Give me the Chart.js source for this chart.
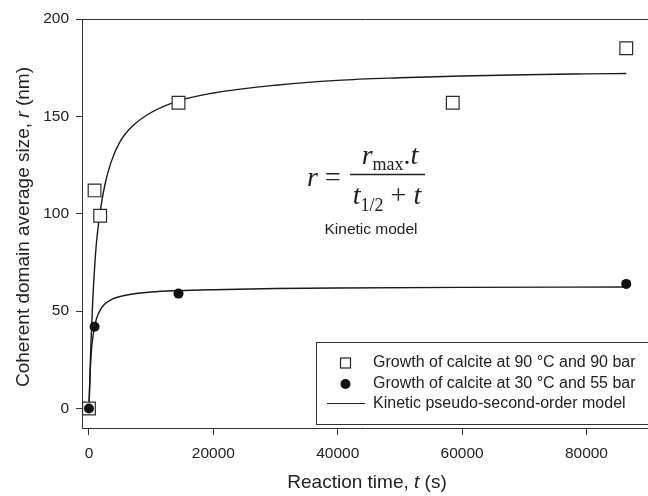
<!DOCTYPE html>
<html>
<head>
<meta charset="utf-8">
<script src="https://cdn.jsdelivr.net/npm/chart.js@4.4.1/dist/chart.umd.min.js"></script>
<style>
  html, body { margin: 0; padding: 0; background: #fff; }
  #wrap { width: 648px; height: 496px; }
</style>
</head>
<body>
<div id="wrap"><canvas id="chart" width="648" height="496"></canvas></div>
<script>
const timeSquares = [0, 900, 1800, 14400, 58500, 86400];
const sizeSquares = [0, 112, 99, 157, 157, 185];
const timeCircles = [0, 900, 14400, 86400];
const sizeCircles = [0, 42, 59, 64];

// Courbes du modèle
const modelTime90 = [0, 300, 600, 900, 1200, 1800, 2500, 3500, 5000, 7000, 10000, 14400, 20000, 30000, 40000, 50000, 60000, 70000, 80000, 86400];
const modelSize90 = [0, 32, 55, 72, 85, 101, 114, 126, 137, 145, 152, 158, 162, 166, 168.5, 169.8, 170.7, 171.4, 171.8, 172];
const modelTime30 = [0, 200, 400, 600, 900, 1200, 1800, 2500, 3500, 5000, 7000, 10000, 14400, 20000, 30000, 40000, 60000, 86400];
const modelSize30 = [0, 19, 30, 36, 42, 46, 50.5, 53.5, 55.8, 57.5, 58.8, 59.8, 60.5, 61, 61.6, 61.9, 62.2, 62.4];

// Graduations
const xTicks = [0, 20000, 40000, 60000, 80000];
const yTicks = [0, 50, 100, 150, 200];

const legendLabels = [
  "Growth of calcite at 90 °C and 90 bar",
  "Growth of calcite at 30 °C and 55 bar",
  "Kinetic pseudo-second-order model"
];

const ink = "#222";
const sans = "Arial, 'Liberation Sans', sans-serif";
const serif = "'Times New Roman', 'Liberation Serif', serif";

function toPoints(xs, ys) {
  return xs.map((x, i) => ({ x: x, y: ys[i] }));
}

// Dessine une suite de morceaux de texte (polices différentes)
function drawRuns(ctx, runs, x, y, align) {
  let total = 0;
  runs.forEach((r) => {
    ctx.font = r.font;
    total += ctx.measureText(r.text).width;
  });
  let cx = align === "center" ? x - total / 2 : x;
  ctx.textAlign = "left";
  runs.forEach((r) => {
    ctx.font = r.font;
    ctx.fillText(r.text, cx, y + (r.dy || 0));
    cx += ctx.measureText(r.text).width;
  });
}

const decorations = {
  id: "decorations",
  afterDraw(chart) {
    const ctx = chart.ctx;
    const area = chart.chartArea;
    ctx.save();

    // Bord supérieur
    ctx.strokeStyle = "#333";
    ctx.lineWidth = 1;
    ctx.beginPath();
    ctx.moveTo(area.left, area.top + 0.5);
    ctx.lineTo(area.right + 5, area.top + 0.5);
    ctx.stroke();

    ctx.fillStyle = ink;
    ctx.textBaseline = "alphabetic";

    // Titre de l'axe x
    drawRuns(ctx, [
      { text: "Reaction time, ", font: "19px " + sans },
      { text: "t", font: "italic 19px " + sans },
      { text: " (s)", font: "19px " + sans }
    ], 367, 488, "center");

    // Titre de l'axe y
    ctx.save();
    ctx.translate(29, 227);
    ctx.rotate(-Math.PI / 2);
    drawRuns(ctx, [
      { text: "Coherent domain average size, ", font: "19px " + sans },
      { text: "r", font: "italic 19px " + sans },
      { text: " (nm)", font: "19px " + sans }
    ], 0, 0, "center");
    ctx.restore();

    // Équation du modèle
    drawRuns(ctx, [
      { text: "r", font: "italic 28px " + serif },
      { text: " = ", font: "28px " + serif }
    ], 307, 186, "left");
    drawRuns(ctx, [
      { text: "r", font: "italic 28px " + serif },
      { text: "max", font: "18px " + serif, dy: 6 },
      { text: ".", font: "28px " + serif },
      { text: "t", font: "italic 28px " + serif }
    ], 390, 164, "center");
    ctx.strokeStyle = ink;
    ctx.lineWidth = 1.3;
    ctx.beginPath();
    ctx.moveTo(350, 174.5);
    ctx.lineTo(425, 174.5);
    ctx.stroke();
    drawRuns(ctx, [
      { text: "t", font: "italic 28px " + serif },
      { text: "1/2", font: "18px " + serif, dy: 7 },
      { text: " + ", font: "28px " + serif },
      { text: "t", font: "italic 28px " + serif }
    ], 387, 204, "center");
    ctx.font = "15.5px " + sans;
    ctx.textAlign = "center";
    ctx.fillText("Kinetic model", 371, 234);

    // Légende
    ctx.strokeStyle = "#333";
    ctx.lineWidth = 1;
    ctx.strokeRect(316.5, 342.5, 340, 82);
    ctx.fillStyle = "#fff";
    ctx.strokeStyle = "#222";
    ctx.lineWidth = 1.2;
    ctx.fillRect(340.5, 358, 10, 10);
    ctx.strokeRect(340.5, 358, 10, 10);
    ctx.fillStyle = "#111";
    ctx.beginPath();
    ctx.arc(345.5, 384, 5, 0, Math.PI * 2);
    ctx.fill();
    ctx.beginPath();
    ctx.moveTo(327, 403.5);
    ctx.lineTo(365, 403.5);
    ctx.stroke();
    ctx.fillStyle = ink;
    ctx.font = "16px " + sans;
    ctx.textAlign = "left";
    ctx.textBaseline = "middle";
    legendLabels.forEach((label, i) => {
      ctx.fillText(label, 373, 363 + i * 20.5);
    });

    ctx.restore();
  }
};

const ctx = document.getElementById("chart").getContext("2d");
new Chart(ctx, {
  type: "scatter",
  data: {
    datasets: [
      {
        type: "line",
        label: "model90",
        data: toPoints(modelTime90, modelSize90),
        borderColor: "#1a1a1a",
        borderWidth: 1.4,
        pointRadius: 0,
        fill: false,
        cubicInterpolationMode: "monotone",
        order: 3
      },
      {
        type: "line",
        label: "model30",
        data: toPoints(modelTime30, modelSize30),
        borderColor: "#1a1a1a",
        borderWidth: 1.4,
        pointRadius: 0,
        fill: false,
        cubicInterpolationMode: "monotone",
        order: 3
      },
      {
        label: legendLabels[0],
        data: toPoints(timeSquares, sizeSquares),
        pointStyle: "rect",
        pointRadius: 9,
        backgroundColor: "#fff",
        borderColor: "#2a2a2a",
        borderWidth: 1.2,
        order: 1
      },
      {
        label: legendLabels[1],
        data: toPoints(timeCircles, sizeCircles),
        pointStyle: "circle",
        pointRadius: 5,
        backgroundColor: "#111",
        borderColor: "#111",
        borderWidth: 0,
        order: 0
      }
    ]
  },
  options: {
    responsive: false,
    animation: false,
    layout: { autoPadding: false, padding: { top: 19, right: 0, left: 0, bottom: 0 } },
    plugins: {
      legend: { display: false },
      tooltip: { enabled: false }
    },
    scales: {
      x: {
        type: "linear",
        min: -1120,
        max: 89900,
        afterBuildTicks: (scale) => {
          scale.ticks = xTicks.map((v) => ({ value: v }));
        },
        afterFit: (scale) => {
          scale.height = 68;
        },
        grid: {
          drawOnChartArea: false,
          drawTicks: true,
          tickLength: 7,
          color: "#333"
        },
        border: { display: true, color: "#333", width: 1 },
        ticks: {
          color: ink,
          font: { family: sans, size: 15.5 },
          padding: 9,
          maxRotation: 0,
          callback: (value) => String(value)
        }
      },
      y: {
        min: -10,
        max: 200,
        afterBuildTicks: (scale) => {
          scale.ticks = yTicks.map((v) => ({ value: v }));
        },
        afterFit: (scale) => {
          scale.width = 82;
        },
        grid: {
          drawOnChartArea: false,
          drawTicks: true,
          tickLength: 6,
          color: "#333"
        },
        border: { display: true, color: "#333", width: 1 },
        ticks: {
          color: ink,
          font: { family: sans, size: 15.5 },
          padding: 7
        }
      }
    }
  },
  plugins: [decorations]
});
</script>
</body>
</html>
